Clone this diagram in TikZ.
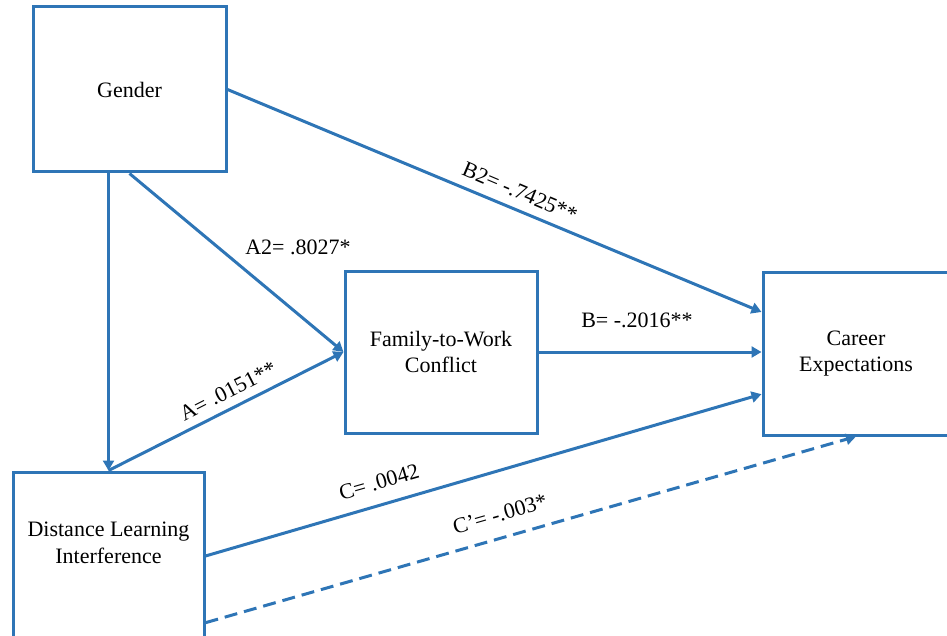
\documentclass[tikz,border=0pt]{standalone}
\usepackage{fontspec}
\setmainfont{Liberation Serif}
\usetikzlibrary{arrows.meta,calc}

\definecolor{pathblue}{RGB}{46,117,182}

\begin{document}
\begin{tikzpicture}[x=0.5pt,y=-0.5pt,
    font=\fontsize{11}{13.3}\selectfont,
    box/.style={draw=pathblue, line width=1.5pt, fill=white, align=center, inner sep=0pt},
    path/.style={draw=pathblue, line width=1.5pt, -{Triangle[length=5pt,width=5.5pt]}},
    coef/.style={inner sep=1pt}]
      \clip (0,0) rectangle (947,636);
      % variables
      \node[box, minimum width=96.5pt, minimum height=82.5pt] (gender) at (129.5,89.5) {Gender};
      \node[box, minimum width=96pt, minimum height=81pt] (fwc) at (441,352) {Family-to-Work\\Conflict};
      \node[box, minimum width=93pt, minimum height=81.5pt] (career) at (856,353.5) {Career\\Expectations};
      \node[box, minimum width=95.5pt, minimum height=84pt,
        label={[align=center, yshift=6.5pt]center:Distance Learning\\Interference}] (dli) at (108.5,556) {};
      % paths
      \draw[path] (dli.north |- gender.south) -- (dli.north);
      \draw[path] (gender.south) -- (fwc.west);
      \draw[path] (gender.east) -- ($(career.north west)!0.25!(career.south west)$);
      \draw[path] (dli.north) -- (fwc.west);
      \draw[path] (fwc.east) -- (fwc.east -| career.west);
      \draw[path] (dli.east) -- ($(career.north west)!0.745!(career.south west)$);
      \draw[path, dash pattern=on 6.5pt off 3.5pt] ($(dli.north east)!0.89!(dli.south east)$) -- (career.south);
      % coefficients
      \node[coef] (a2) at (298,247) {A2= .8027*};
      \node[coef, rotate=27] (a) at (228,391) {A= .0151**};
      \node[coef, rotate=-23] (b2) at (520,192) {B2= -.7425**};
      \node[coef] (b) at (637,320) {B= -.2016**};
      \node[coef, rotate=16] (c) at (379,482) {C= .0042};
      \node[coef, rotate=16] (cp) at (500,514) {C'= -.003*};
    \end{tikzpicture}
\end{document}
